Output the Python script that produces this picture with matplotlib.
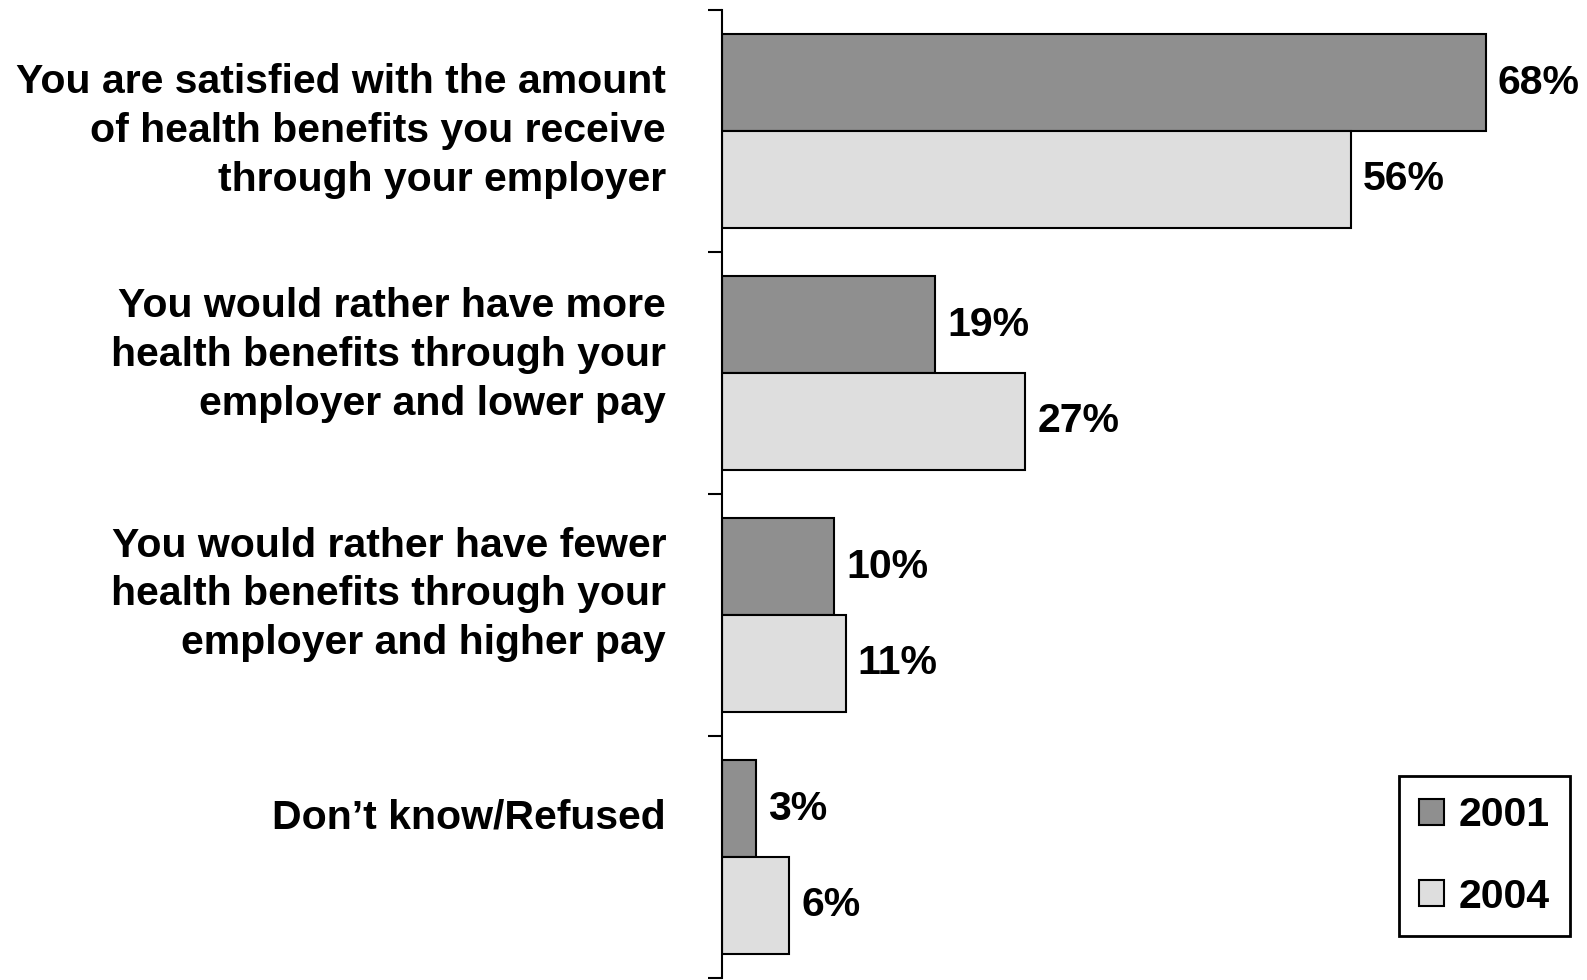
import matplotlib
matplotlib.use("Agg")
import matplotlib.pyplot as plt
import numpy as np
from matplotlib.patches import Patch

categories = [
    "You are satisfied with the amount\nof health benefits you receive\nthrough your employer",
    "You would rather have more\nhealth benefits through your\nemployer and lower pay",
    "You would rather have fewer\nhealth benefits through your\nemployer and higher pay",
    "Don\u2019t know/Refused",
]
series_names = ["2001", "2004"]
values_2001 = [68, 19, 10, 3]
values_2004 = [56, 27, 11, 6]

colors = ["#8f8f8f", "#dedede"]
plt.rcParams["font.family"] = ["Liberation Sans", "DejaVu Sans"]
plt.rcParams["font.weight"] = "bold"

W, H = 1587, 980
fig = plt.figure(figsize=(W / 100, H / 100), dpi=100)
ax_left, ax_right = 722 / W, 1.0
ax_top, ax_bot = 1 - 10 / H, 1 - 978 / H
ax = fig.add_axes([ax_left, ax_bot, ax_right - ax_left, ax_top - ax_bot])

n = len(categories)
idx = np.arange(n)
bh = 0.4
centers = idx + 0.5
b1 = ax.barh(centers - bh / 2, values_2001, height=bh, color=colors[0],
             edgecolor="black", linewidth=1.5, label=series_names[0])
b2 = ax.barh(centers + bh / 2, values_2004, height=bh, color=colors[1],
             edgecolor="black", linewidth=1.5, label=series_names[1])

ax.set_xlim(0, 77.0)
ax.set_ylim(n, 0)

fs = 29.5
for bars, vals in [(b1, values_2001), (b2, values_2004)]:
    for rect, v in zip(bars, vals):
        ax.annotate(f"{v}%", xy=(rect.get_width(), rect.get_y() + rect.get_height() / 2),
                    xytext=(12, 0), textcoords="offset pixels",
                    ha="left", va="center", fontsize=fs, fontweight="bold")

# category labels (text block slightly above the group centre, as in the original)
label_shift = [0.0, 0.075, 0.085, 0.165]
for i, cat in enumerate(categories):
    ax.annotate(cat, xy=(0, i + 0.5 - label_shift[i]), xytext=(-56, 0),
                textcoords="offset pixels", ha="right", va="center",
                fontsize=fs, fontweight="bold", linespacing=1.36,
                annotation_clip=False)

for s in ["top", "right", "bottom"]:
    ax.spines[s].set_visible(False)
ax.spines["left"].set_linewidth(1.5)
ax.set_xticks([])
ax.set_yticks(np.arange(n + 1))
ax.set_yticklabels([])
ax.tick_params(axis="y", direction="out", length=10, width=1.5)

handles = [Patch(facecolor=colors[0], edgecolor="black", linewidth=1.5),
           Patch(facecolor=colors[1], edgecolor="black", linewidth=1.5)]
leg = fig.legend(handles, series_names, loc="lower right",
                 bbox_to_anchor=(1570 / W, 1 - 936 / H), bbox_transform=fig.transFigure,
                 borderaxespad=0, prop={"weight": "bold", "size": fs},
                 handlelength=0.6, handleheight=0.6, handletextpad=0.35,
                 labelspacing=1.05, borderpad=0.5, fancybox=False, framealpha=1)
leg.get_frame().set_edgecolor("black")
leg.get_frame().set_linewidth(2)

fig.savefig("out.png", dpi=100)
